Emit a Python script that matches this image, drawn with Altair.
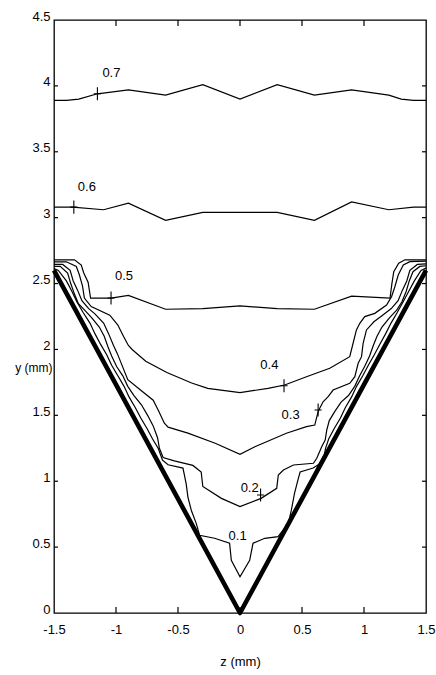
import altair as alt
import pandas as pd

# ---------------- data ----------------
wall_z = [-1.5, 0.0, 1.5]
wall_y = [2.6, 0.0, 2.6]

c07_z = [-1.5, -1.4, -1.3, -1.15, -0.9, -0.6, -0.3, 0.0, 0.3, 0.6, 0.9, 1.2, 1.3, 1.4, 1.5]
c07_y = [3.89, 3.89, 3.90, 3.94, 3.97, 3.93, 4.01, 3.90, 4.01, 3.93, 3.97, 3.93, 3.90, 3.89, 3.89]

c06_z = [-1.5, -1.35, -1.1, -0.9, -0.6, -0.3, 0.0, 0.3, 0.6, 0.9, 1.2, 1.4, 1.5]
c06_y = [3.08, 3.08, 3.06, 3.11, 2.98, 3.04, 3.04, 3.04, 2.98, 3.12, 3.06, 3.08, 3.08]

c05_z = [-1.5, -1.335, -1.28, -1.26, -1.225, -1.205, -1.04, -0.9, -0.6, -0.3, 0.0,
         0.3, 0.6, 0.9, 1.21, 1.225, 1.24, 1.28, 1.33, 1.5]
c05_y = [2.68, 2.68, 2.64, 2.58, 2.51, 2.39, 2.39, 2.41, 2.305, 2.31, 2.33,
         2.31, 2.305, 2.405, 2.39, 2.5, 2.59, 2.655, 2.68, 2.68]

c04_z = [-1.5, -1.4, -1.32, -1.295, -1.27, -1.255, -1.2, -1.05, -0.985, -0.94, -0.9, -0.87,
         -0.76, -0.59, -0.39, -0.26, 0.0, 0.226, 0.36, 0.536, 0.724, 0.885, 0.912, 0.939,
         0.966, 1.006, 1.087, 1.182, 1.222, 1.249, 1.276, 1.317, 1.37, 1.5]
c04_y = [2.665, 2.665, 2.63, 2.565, 2.48, 2.39, 2.325, 2.26, 2.185, 2.1, 2.03, 2.0,
         1.91, 1.825, 1.745, 1.705, 1.672, 1.705, 1.73, 1.793, 1.857, 1.945, 2.047, 2.148,
         2.198, 2.249, 2.274, 2.337, 2.4, 2.476, 2.565, 2.641, 2.666, 2.67]

c03_z = [-1.5, -1.43, -1.37, -1.345, -1.31, -1.275, -1.22, -1.17, -1.1, -1.06, -1.02, -0.99,
         -0.96, -0.905, -0.8, -0.70, -0.66, -0.61, -0.58, -0.42, -0.2, 0.0, 0.12, 0.374,
         0.536, 0.603, 0.63, 0.643, 0.67, 0.711, 0.751, 0.885, 0.926, 0.953, 0.98, 0.993,
         1.02, 1.08, 1.15, 1.22, 1.275, 1.31, 1.345, 1.37, 1.43, 1.5]
c03_y = [2.645, 2.645, 2.6, 2.52, 2.45, 2.37, 2.31, 2.27, 2.2, 2.12, 2.03, 1.97,
         1.9, 1.77, 1.69, 1.615, 1.54, 1.44, 1.41, 1.365, 1.288, 1.204, 1.262, 1.364,
         1.414, 1.426, 1.528, 1.553, 1.603, 1.642, 1.692, 1.743, 1.793, 1.895, 1.945, 2.047,
         2.148, 2.21, 2.26, 2.31, 2.37, 2.45, 2.52, 2.6, 2.645, 2.65]

c02_z = [-1.5, -1.45, -1.39, -1.365, -1.335, -1.305, -1.255, -1.195, -1.135, -1.095, -1.065,
         -1.035, -0.995, -0.945, -0.905, -0.855, -0.795, -0.745, -0.70, -0.665, -0.65, -0.62,
         -0.53, -0.38, -0.313, -0.3, -0.15, 0.0, 0.17, 0.296, 0.309, 0.35, 0.431, 0.592,
         0.619, 0.659, 0.687, 0.70, 0.72, 0.765, 0.815, 0.875, 0.925, 0.965, 1.005, 1.045,
         1.075, 1.105, 1.145, 1.205, 1.265, 1.305, 1.34, 1.365, 1.395, 1.45, 1.5]
c02_y = [2.63, 2.63, 2.58, 2.5, 2.42, 2.35, 2.3, 2.24, 2.17, 2.1, 2.02,
         1.95, 1.87, 1.8, 1.72, 1.65, 1.58, 1.5, 1.42, 1.33, 1.25, 1.18,
         1.155, 1.12, 1.07, 0.96, 0.87, 0.807, 0.87, 0.946, 1.047, 1.085, 1.123, 1.136,
         1.174, 1.262, 1.313, 1.389, 1.46, 1.53, 1.6, 1.65, 1.72, 1.8, 1.87, 1.95,
         2.03, 2.1, 2.17, 2.24, 2.3, 2.36, 2.44, 2.52, 2.59, 2.63, 2.635]

c01_z = [-1.5, -1.465, -1.40, -1.355, -1.315, -1.265, -1.21, -1.17, -1.125, -1.075, -1.035,
         -0.985, -0.935, -0.895, -0.845, -0.80, -0.75, -0.705, -0.66, -0.625, -0.58, -0.46,
         -0.447, -0.434, -0.42, -0.393, -0.353, -0.326, -0.205, -0.084, -0.07, 0.0, 0.078,
         0.105, 0.2, 0.307, 0.39, 0.414, 0.44, 0.47, 0.485, 0.59, 0.64, 0.68, 0.69, 0.715,
         0.76, 0.81, 0.85, 0.9, 0.94, 0.99, 1.035, 1.083, 1.128, 1.175, 1.218, 1.268, 1.315,
         1.36, 1.406, 1.46, 1.5]
c01_y = [2.614, 2.60, 2.52, 2.44, 2.36, 2.28, 2.2, 2.12, 2.04, 1.96, 1.88,
         1.8, 1.72, 1.64, 1.56, 1.48, 1.4, 1.32, 1.25, 1.16, 1.125, 1.10,
         1.04, 0.98, 0.88, 0.78, 0.68, 0.59, 0.567, 0.529, 0.40, 0.275, 0.40,
         0.529, 0.567, 0.579, 0.68, 0.78, 0.91, 1.02, 1.07, 1.10, 1.13, 1.2, 1.25, 1.32,
         1.40, 1.48, 1.56, 1.64, 1.72, 1.80, 1.88, 1.96, 2.04, 2.12, 2.2, 2.28, 2.36,
         2.44, 2.52, 2.60, 2.617]

label_text = ["0.7", "0.6", "0.5", "0.4", "0.3", "0.2", "0.1"]
label_z = [-1.037, -1.235, -0.935, 0.237, 0.408, 0.078, -0.019]
label_y = [4.10, 3.23, 2.56, 1.88, 1.50, 0.95, 0.587]

cross_z = [-1.15, -1.34, -1.04, 0.355, 0.63, 0.166]
cross_y = [3.94, 3.08, 2.39, 1.725, 1.54, 0.895]

x_ticks = [-1.5, -1.0, -0.5, 0.0, 0.5, 1.0, 1.5]
y_ticks = [0.0, 0.5, 1.0, 1.5, 2.0, 2.5, 3.0, 3.5, 4.0, 4.5]
x_inner_ticks = [-1.0, -0.5, 0.0, 0.5, 1.0]
y_inner_ticks = [0.5, 1.0, 1.5, 2.0, 2.5, 3.0, 3.5, 4.0]

# ---------------- tables ----------------
contours = [("0.1", c01_z, c01_y), ("0.2", c02_z, c02_y), ("0.3", c03_z, c03_y),
            ("0.4", c04_z, c04_y), ("0.5", c05_z, c05_y), ("0.6", c06_z, c06_y),
            ("0.7", c07_z, c07_y)]
rows = []
for lev, zs, ys in contours:
    for i, (zv, yv) in enumerate(zip(zs, ys)):
        rows.append({"level": lev, "i": i, "z": zv, "y": yv})
df_c = pd.DataFrame(rows)
df_wall = pd.DataFrame({"z": wall_z, "y": wall_y, "i": range(len(wall_z))})
df_lab = pd.DataFrame({"z": label_z, "y": label_y, "t": label_text})
df_cross = pd.DataFrame({"z": cross_z, "y": cross_y})
df_xt = pd.DataFrame({"z": x_inner_ticks})
df_yt = pd.DataFrame({"y": y_inner_ticks})

FONT = "Liberation Sans"
W, H = 372, 593

xsc = alt.Scale(domain=[-1.5, 1.5], nice=False, zero=False)
ysc = alt.Scale(domain=[0, 4.5], nice=False, zero=False)

xaxis = alt.Axis(values=x_ticks, labelExpr="toString(datum.value)", ticks=False, tickSize=0,
                 domain=False, grid=False, labelPadding=10, labelFont=FONT, labelFontSize=13,
                 labelColor="black", labelFlush=False, title="z (mm)", titleFont=FONT,
                 titleFontSize=13, titleFontWeight="normal", titleColor="black",
                 titleY=48, titleBaseline="middle")
yaxis = alt.Axis(values=y_ticks, labelExpr="toString(datum.value)", ticks=False, tickSize=0,
                 domain=False, grid=False, labelPadding=4, labelFont=FONT, labelFontSize=13,
                 labelColor="black", labelBaseline="alphabetic", labelFlush=False,
                 title="y (mm)", titleFont=FONT, titleFontSize=12, titleFontWeight="normal",
                 titleColor="black", titleAngle=0, titleAlign="right", titleBaseline="middle",
                 titleX=-2, titleY=347)

X = lambda f="z": alt.X(f + ":Q", scale=xsc, axis=xaxis)
Y = lambda f="y": alt.Y(f + ":Q", scale=ysc, axis=yaxis)

lines = alt.Chart(df_c).mark_line(color="black", strokeWidth=1.2, clip=True).encode(
    x=X(), y=Y(), detail="level:N", order="i:Q")

wall = alt.Chart(df_wall).mark_line(color="black", strokeWidth=4.6, strokeJoin="round",
                                     clip=False).encode(x=X(), y=Y(), order="i:Q")

labels = alt.Chart(df_lab).mark_text(font=FONT, fontSize=13, color="black",
                                      align="center", baseline="middle").encode(
    x=X(), y=Y(), text="t:N")

crosses = alt.Chart(df_cross).mark_point(shape="M -0.55 0 L 0.55 0 M 0 -1 L 0 1", size=170,
                                          stroke="black", strokeWidth=1.1, filled=False,
                                          opacity=1).encode(x=X(), y=Y())

top_ticks = alt.Chart(df_xt).mark_rule(color="black", strokeWidth=1.2).encode(
    x=X(), y=alt.value(0), y2=alt.value(6))
bot_ticks = alt.Chart(df_xt).mark_rule(color="black", strokeWidth=1.2).encode(
    x=X(), y=alt.value(H), y2=alt.value(H - 6))
left_ticks = alt.Chart(df_yt).mark_rule(color="black", strokeWidth=1.2).encode(
    y=Y(), x=alt.value(0), x2=alt.value(4))
right_ticks = alt.Chart(df_yt).mark_rule(color="black", strokeWidth=1.2).encode(
    y=Y(), x=alt.value(W), x2=alt.value(W - 4))

chart = alt.layer(lines, wall, labels, crosses, top_ticks, bot_ticks, left_ticks,
                  right_ticks).properties(
    width=W, height=H,
    autosize=alt.AutoSizeParams(type="none"),
    padding={"left": 54, "top": 20, "right": 10, "bottom": 62},
    background="white",
).configure_view(stroke="black", strokeWidth=1.3)

chart.save("out.html", embed_options={"renderer": "svg", "actions": False})
